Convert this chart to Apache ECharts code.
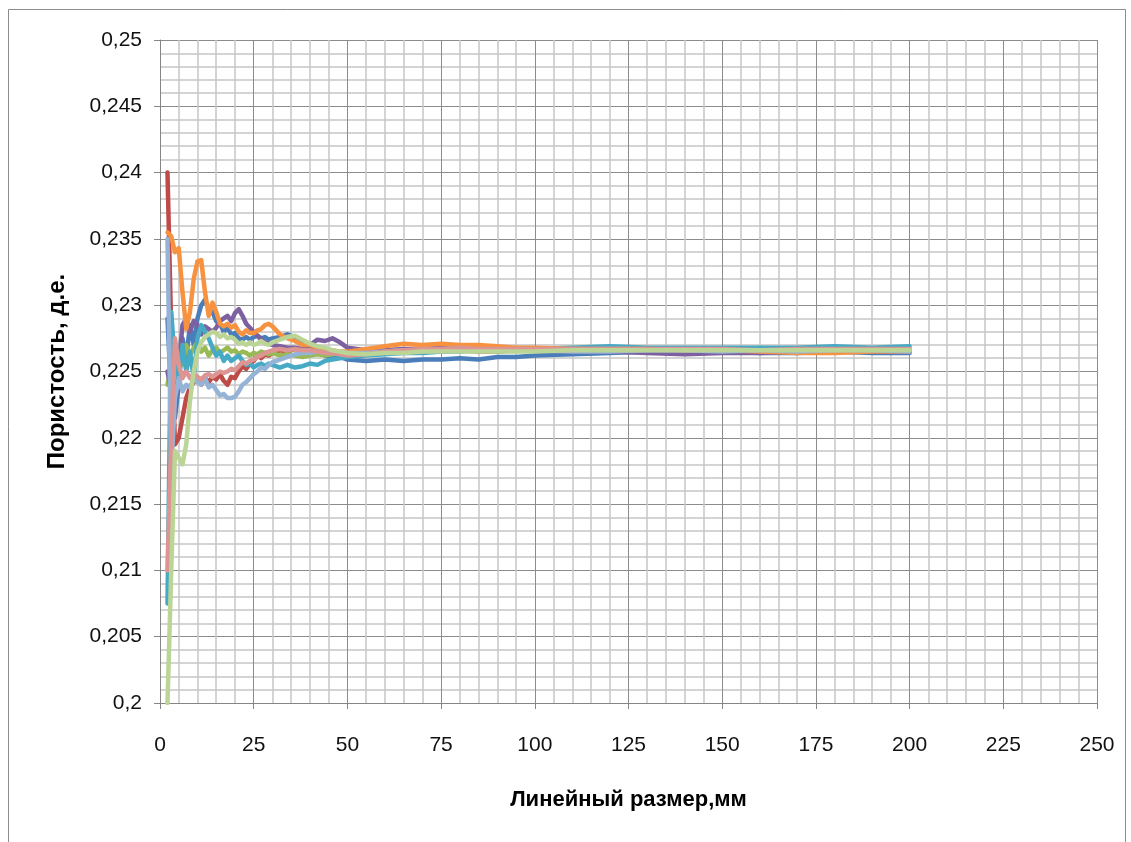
<!DOCTYPE html>
<html>
<head>
<meta charset="utf-8">
<script src="https://cdn.jsdelivr.net/npm/echarts@6/dist/echarts.min.js"></script>
<style>
html,body{margin:0;padding:0;background:#fff;}
#main{width:1131px;height:842px;}
</style>
</head>
<body>
<div id="main"></div>
<script>
// Shared x positions (Линейный размер, мм)
var xs = [2,3,4,5,6,7,8,9,10,11,12,13,14,15,16,17,18,19,20,21,22,23,24,25,26,27,28,29,30,
  32,34,36,38,40,42,44,46,48,50,55,60,65,70,75,80,85,90,95,100,110,120,130,140,150,160,170,180,190,200];

var yTicks = [0.2,0.205,0.21,0.215,0.22,0.225,0.23,0.235,0.24,0.245,0.25];
var xTicks = [0,25,50,75,100,125,150,175,200,225,250];

var sBlue = [0.2290,0.2230,0.2215,0.2240,0.2275,0.2260,0.2285,0.2270,0.2290,0.2300,0.2304,0.2298,0.2295,0.2288,0.2286,0.2280,0.2283,0.2278,0.2279,0.2275,0.2274,0.2276,0.2274,0.2276,0.2277,0.2275,0.2276,0.2274,0.2275,
  0.2276,0.2278,0.2276,0.2272,0.2268,0.2265,0.2262,0.2260,0.2261,0.2259,0.2258,0.2259,0.2258,0.2259,0.2259,0.2260,0.2259,0.2261,0.2261,0.2262,0.2263,0.2264,0.2265,0.2264,0.2265,0.2264,0.2264,0.2265,0.2264,0.2264];
var sRed = [0.2400,0.2280,0.2195,0.2200,0.2215,0.2230,0.2238,0.2242,0.2245,0.2240,0.2245,0.2242,0.2246,0.2244,0.2248,0.2243,0.2240,0.2246,0.2245,0.2250,0.2254,0.2252,0.2256,0.2258,0.2262,0.2260,0.2263,0.2262,0.2264,
  0.2266,0.2265,0.2267,0.2266,0.2265,0.2264,0.2266,0.2265,0.2263,0.2262,0.2263,0.2264,0.2265,0.2266,0.2265,0.2266,0.2265,0.2265,0.2266,0.2266,0.2267,0.2266,0.2266,0.2266,0.2266,0.2265,0.2265,0.2266,0.2266,0.2266];
var sGreen = [0.2240,0.2255,0.2250,0.2262,0.2255,0.2270,0.2262,0.2268,0.2272,0.2265,0.2268,0.2262,0.2266,0.2268,0.2264,0.2266,0.2268,0.2265,0.2266,0.2263,0.2265,0.2264,0.2262,0.2264,0.2263,0.2265,0.2264,0.2263,0.2264,
  0.2262,0.2263,0.2262,0.2261,0.2262,0.2263,0.2262,0.2263,0.2264,0.2264,0.2265,0.2265,0.2266,0.2265,0.2265,0.2266,0.2266,0.2265,0.2266,0.2266,0.2266,0.2266,0.2265,0.2266,0.2266,0.2266,0.2266,0.2265,0.2266,0.2266];
var sPurple = [0.2250,0.2235,0.2220,0.2255,0.2285,0.2290,0.2280,0.2288,0.2285,0.2278,0.2284,0.2282,0.2280,0.2283,0.2288,0.2290,0.2292,0.2288,0.2294,0.2297,0.2292,0.2286,0.2283,0.2280,0.2277,0.2274,0.2272,0.2271,0.2270,
  0.2269,0.2268,0.2268,0.2267,0.2270,0.2274,0.2273,0.2275,0.2272,0.2268,0.2266,0.2266,0.2267,0.2267,0.2268,0.2269,0.2269,0.2268,0.2267,0.2266,0.2265,0.2265,0.2264,0.2263,0.2264,0.2264,0.2265,0.2265,0.2265,0.2265];
var sAqua = [0.2075,0.2295,0.2255,0.2245,0.2270,0.2250,0.2265,0.2245,0.2275,0.2285,0.2280,0.2275,0.2268,0.2262,0.2265,0.2258,0.2262,0.2258,0.2260,0.2262,0.2258,0.2255,0.2256,0.2253,0.2255,0.2256,0.2254,0.2256,0.2255,
  0.2253,0.2255,0.2253,0.2254,0.2256,0.2255,0.2258,0.2259,0.2260,0.2261,0.2262,0.2263,0.2264,0.2264,0.2265,0.2265,0.2266,0.2266,0.2267,0.2267,0.2268,0.2269,0.2268,0.2268,0.2268,0.2268,0.2268,0.2269,0.2268,0.2269];
var sOrange = [0.2355,0.2352,0.2340,0.2343,0.2310,0.2282,0.2295,0.2320,0.2333,0.2334,0.2310,0.2292,0.2302,0.2295,0.2286,0.2284,0.2286,0.2283,0.2285,0.2280,0.2278,0.2281,0.2279,0.2279,0.2281,0.2282,0.2285,0.2286,0.2284,
  0.2278,0.2275,0.2273,0.2270,0.2270,0.2268,0.2267,0.2266,0.2265,0.2265,0.2267,0.2269,0.2271,0.2270,0.2271,0.2270,0.2270,0.2269,0.2268,0.2268,0.2267,0.2267,0.2267,0.2266,0.2266,0.2265,0.2264,0.2264,0.2265,0.2265];
var sLightBlue = [0.2350,0.2175,0.2230,0.2245,0.2235,0.2240,0.2238,0.2245,0.2242,0.2240,0.2245,0.2238,0.2240,0.2236,0.2232,0.2233,0.2230,0.2230,0.2231,0.2235,0.2240,0.2242,0.2245,0.2248,0.2250,0.2253,0.2252,0.2255,0.2257,
  0.2259,0.2261,0.2263,0.2264,0.2264,0.2265,0.2264,0.2264,0.2265,0.2264,0.2264,0.2265,0.2266,0.2265,0.2266,0.2266,0.2266,0.2266,0.2266,0.2266,0.2265,0.2265,0.2266,0.2266,0.2265,0.2266,0.2265,0.2266,0.2266,0.2265];
var sPink = [0.2100,0.2200,0.2275,0.2255,0.2245,0.2250,0.2245,0.2248,0.2246,0.2244,0.2247,0.2248,0.2246,0.2248,0.2250,0.2249,0.2250,0.2252,0.2251,0.2254,0.2257,0.2256,0.2258,0.2259,0.2261,0.2262,0.2264,0.2265,0.2266,
  0.2267,0.2266,0.2267,0.2266,0.2266,0.2265,0.2264,0.2264,0.2263,0.2262,0.2263,0.2265,0.2266,0.2267,0.2267,0.2268,0.2267,0.2267,0.2267,0.2267,0.2267,0.2267,0.2267,0.2267,0.2267,0.2266,0.2267,0.2267,0.2267,0.2267];
var sLightGreen = [0.2000,0.2100,0.2190,0.2185,0.2180,0.2195,0.2228,0.2250,0.2265,0.2272,0.2276,0.2278,0.2280,0.2279,0.2276,0.2278,0.2275,0.2276,0.2274,0.2271,0.2272,0.2270,0.2272,0.2270,0.2271,0.2273,0.2271,0.2270,0.2272,
  0.2274,0.2276,0.2277,0.2274,0.2271,0.2269,0.2268,0.2266,0.2265,0.2264,0.2263,0.2264,0.2264,0.2265,0.2265,0.2265,0.2265,0.2265,0.2265,0.2265,0.2266,0.2266,0.2266,0.2266,0.2266,0.2266,0.2266,0.2266,0.2266,0.2266];

var seriesDefs = [
  {vals: sBlue, color: '#4A7EBB'},
  {vals: sRed, color: '#BE4B48'},
  {vals: sGreen, color: '#98B954'},
  {vals: sPurple, color: '#7D60A0'},
  {vals: sAqua, color: '#46AAC5'},
  {vals: sOrange, color: '#F69240'},
  {vals: sLightBlue, color: '#95B3D7'},
  {vals: sPink, color: '#DD9593'},
  {vals: sLightGreen, color: '#BBD597'}
];

function fmt(v){
  var s = (+v.toFixed(3)).toString();
  return s.replace('.', ',');
}

var chart = echarts.init(document.getElementById('main'));
var font = '"Liberation Sans", Arial, sans-serif';
chart.setOption({
  animation: false,
  backgroundColor: '#fff',
  textStyle: {fontFamily: font},
  graphic: [{
    type: 'rect', shape: {x: 8.5, y: 9.5, width: 1117, height: 845},
    style: {fill: 'none', stroke: '#8c8c8c', lineWidth: 1}, z: -1
  }],
  grid: {left: 160, top: 40, right: 34, bottom: 139, containLabel: false},
  xAxis: {
    type: 'value', min: xTicks[0], max: xTicks[xTicks.length-1], interval: 25,
    name: 'Линейный размер,мм', nameLocation: 'middle', nameGap: 86,
    nameTextStyle: {fontSize: 22, fontWeight: 'bold', color: '#000', fontFamily: font},
    axisLine: {show: true, lineStyle: {color: '#868686', width: 1}},
    axisTick: {show: true, length: 6, lineStyle: {color: '#868686'}},
    axisLabel: {fontSize: 21, color: '#111', margin: 32, fontFamily: font},
    splitLine: {show: true, lineStyle: {color: '#8c8c8c', width: 1}},
    minorTick: {show: false, splitNumber: 5},
    minorSplitLine: {show: true, lineStyle: {color: '#c6c6c6', width: 1.5}}
  },
  yAxis: {
    type: 'value', min: yTicks[0], max: yTicks[yTicks.length-1], interval: 0.005,
    name: 'Пористость, д.е.', nameLocation: 'middle', nameGap: 91, nameRotate: 90,
    nameTextStyle: {fontSize: 24, fontWeight: 'bold', color: '#000', fontFamily: font},
    axisLine: {show: true, lineStyle: {color: '#868686', width: 1}},
    axisTick: {show: true, length: 6, lineStyle: {color: '#868686'}},
    axisLabel: {fontSize: 21, color: '#111', margin: 18, formatter: fmt, fontFamily: font},
    splitLine: {show: true, lineStyle: {color: '#8c8c8c', width: 1}},
    minorTick: {show: false, splitNumber: 5},
    minorSplitLine: {show: true, lineStyle: {color: '#c6c6c6', width: 1.5}}
  },
  series: seriesDefs.map(function(d){
    return {
      type: 'line', showSymbol: false, symbol: 'none', clip: true,
      data: xs.map(function(x, i){ return [x, d.vals[i]]; }),
      lineStyle: {color: d.color, width: 4.5, join: 'round', cap: 'round'},
      itemStyle: {color: d.color}
    };
  })
});
</script>
</body>
</html>
